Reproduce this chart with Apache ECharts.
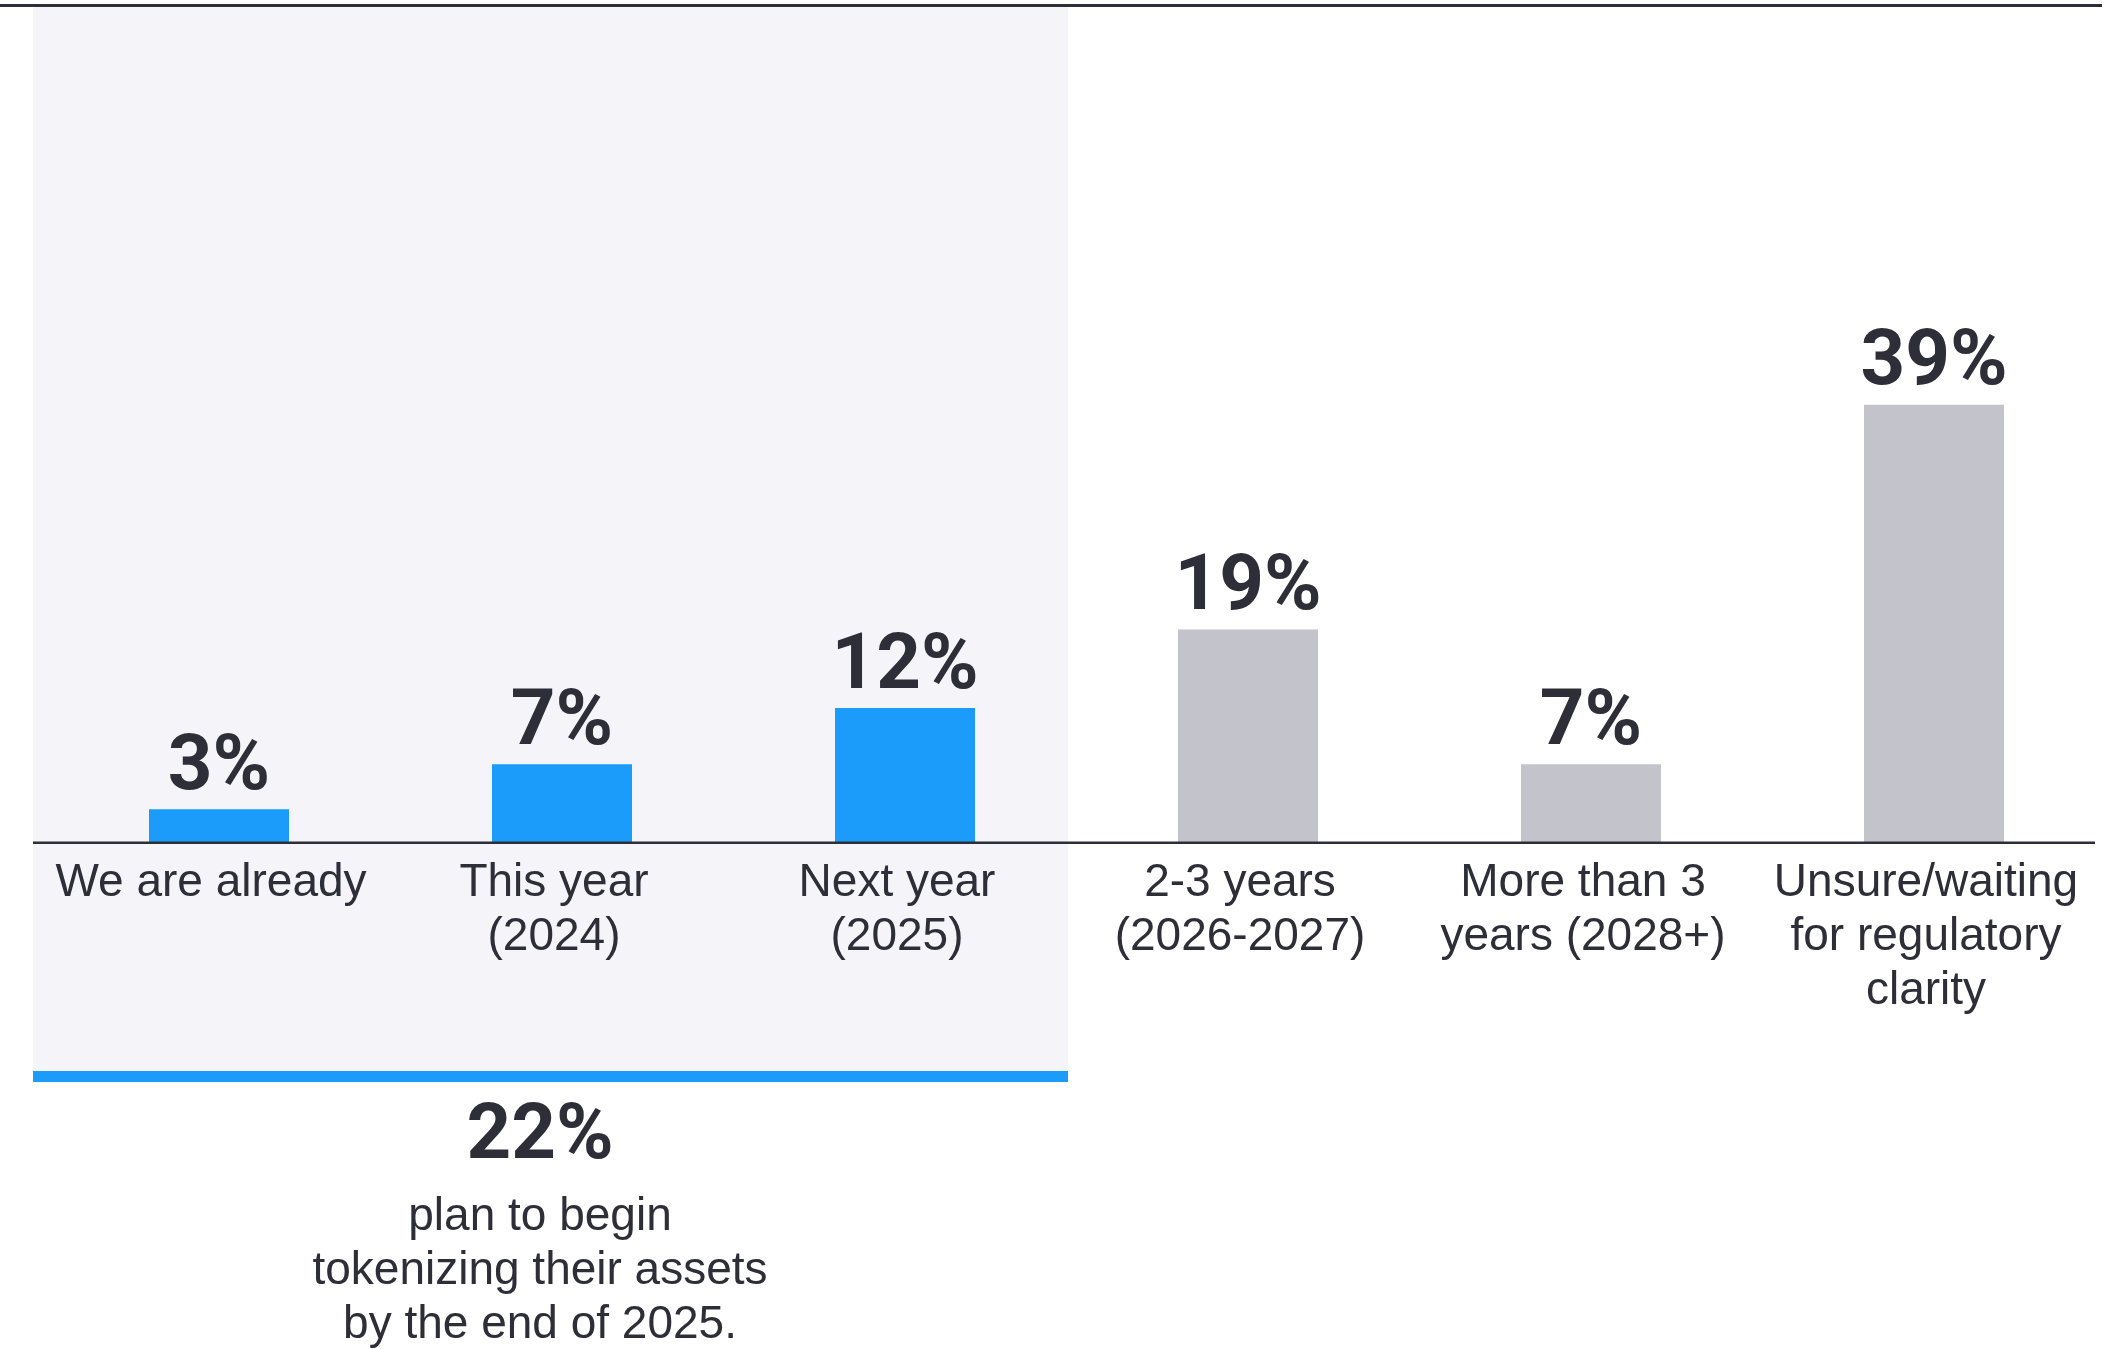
<!DOCTYPE html>
<html>
<head>
<meta charset="utf-8">
<script src="https://cdn.jsdelivr.net/npm/echarts@6/dist/echarts.min.js"></script>
<style>
html,body{margin:0;padding:0;background:#ffffff;}
#chart{width:2106px;height:1349px;}
</style>
</head>
<body>
<div id="chart"></div>
<script>
const categories = [
  'We are already',
  'This year\n(2024)',
  'Next year\n(2025)',
  '2-3 years\n(2026-2027)',
  'More than 3\nyears (2028+)',
  'Unsure/waiting\nfor regulatory\nclarity'
];
const values = [3, 7, 12, 19, 7, 39];
const highlighted = [true, true, true, false, false, false];
const annotationLines = ['plan to begin', 'tokenizing their assets', 'by the end of 2025.'];

const BLUE = '#1b9bfa';
const GREY = '#c3c3cc';
const DARK = '#2e2e38';
const SHADE = '#f5f4f9';
const BOLD_FONT = 'Roboto, "Liberation Sans", sans-serif';
const REG_FONT = '"Liberation Sans", "Noto Sans", sans-serif';

const annotationValue = values.filter((v, i) => highlighted[i]).reduce((a, b) => a + b, 0) + '%';

const chart = echarts.init(document.getElementById('chart'), null, {renderer: 'canvas'});

const option = {
  backgroundColor: '#ffffff',
  animation: false,
  grid: {left: 47.5, right: 0.5, top: 0, bottom: 506, containLabel: false},
  xAxis: {
    type: 'category',
    data: categories,
    axisLine: {show: false},
    axisTick: {show: false},
    axisLabel: {
      interval: 0,
      margin: 13,
      color: DARK,
      fontFamily: REG_FONT,
      fontSize: 46,
      lineHeight: 54,
      padding: [0, 16, 0, 0]
    }
  },
  yAxis: {
    type: 'value',
    min: 0,
    max: 75,
    show: false,
    splitLine: {show: false}
  },
  graphic: [
    {type: 'rect', z: -10, silent: true, shape: {x: 33, y: 7, width: 1035, height: 1064}, style: {fill: SHADE}},
    {type: 'rect', z: 10, silent: true, shape: {x: 33, y: 1071, width: 1035, height: 11}, style: {fill: BLUE}},
    {type: 'rect', z: 10, silent: true, shape: {x: 0, y: 4, width: 2102, height: 3}, style: {fill: DARK}},
    {type: 'rect', z: 100, silent: true, shape: {x: 33, y: 841.5, width: 2062, height: 2.5}, style: {fill: DARK}},
    {type: 'text', z: 10, silent: true, x: 540, y: 1138,
      style: {text: annotationValue, font: 'bold 78px ' + BOLD_FONT, fill: DARK,
        align: 'center', verticalAlign: 'middle', textAlign: 'center', textVerticalAlign: 'middle'}},
    {type: 'text', z: 10, silent: true, x: 540, y: 1271,
      style: {text: annotationLines.join('\n'), font: '46px ' + REG_FONT, lineHeight: 54, fill: DARK,
        align: 'center', verticalAlign: 'middle', textAlign: 'center', textVerticalAlign: 'middle'}}
  ],
  series: [{
    type: 'bar',
    barWidth: 140,
    data: values.map((v, i) => ({
      value: v,
      itemStyle: {color: highlighted[i] ? BLUE : GREY}
    })),
    label: {
      show: true,
      position: 'top',
      distance: 0,
      formatter: '{c}%',
      color: DARK,
      fontFamily: BOLD_FONT,
      fontWeight: 'bold',
      fontSize: 78,
      lineHeight: 80
    }
  }]
};
chart.setOption(option);
</script>
</body>
</html>
